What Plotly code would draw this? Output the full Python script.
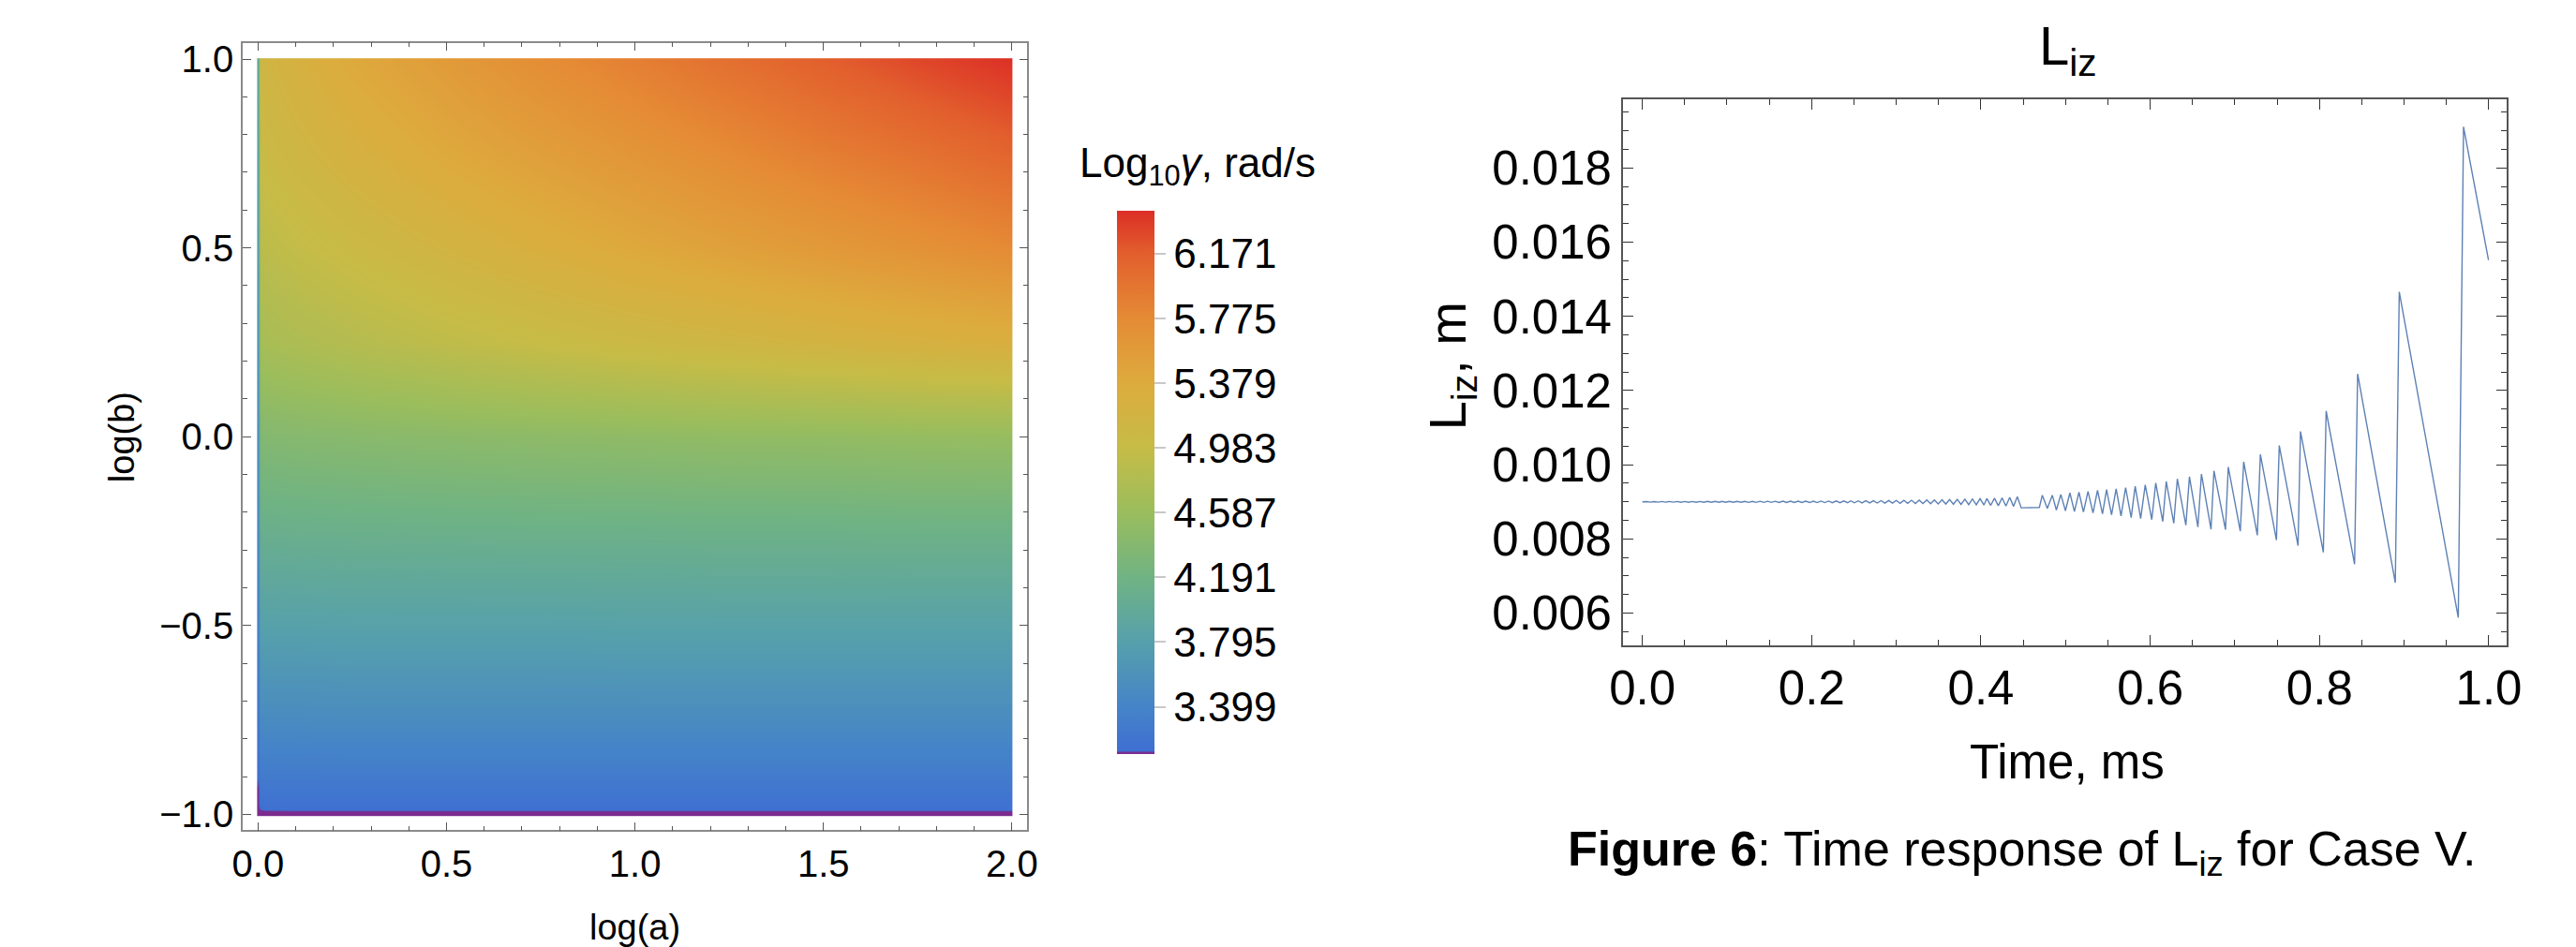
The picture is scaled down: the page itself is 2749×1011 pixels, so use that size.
import plotly.graph_objects as go

grid_log_a = [0.0, 0.005, 0.02, 0.1, 0.25, 0.5, 0.75, 1.0, 1.25, 1.5, 1.75, 1.996, 2.0]
grid_log_b = [-1.0, -0.992, -0.985, -0.95, -0.75, -0.5, -0.25, 0.0, 0.25, 0.5, 0.75, 0.996, 1.0]
row_m100 = [3.11, 3.11, 3.11, 3.11, 3.11, 3.11, 3.11, 3.11, 3.11, 3.11, 3.11, 3.11, 3.11]
row_m099 = [3.11, 3.11, 3.11, 3.11, 3.11, 3.11, 3.11, 3.11, 3.11, 3.11, 3.11, 3.11, 3.11]
row_m0985 = [3.11, 3.13, 3.15, 3.16, 3.16, 3.16, 3.16, 3.16, 3.16, 3.16, 3.16, 3.16, 3.16]
row_m095 = [3.11, 3.20, 3.21, 3.21, 3.21, 3.21, 3.21, 3.21, 3.21, 3.21, 3.21, 3.21, 3.21]
row_m075 = [3.20, 3.50, 3.50, 3.50, 3.51, 3.51, 3.51, 3.51, 3.51, 3.51, 3.51, 3.51, 3.51]
row_m050 = [3.33, 3.80, 3.81, 3.81, 3.82, 3.82, 3.82, 3.83, 3.83, 3.83, 3.83, 3.83, 3.83]
row_m025 = [3.45, 4.08, 4.09, 4.10, 4.11, 4.12, 4.13, 4.13, 4.14, 4.14, 4.15, 4.15, 4.15]
row_p000 = [3.55, 4.36, 4.38, 4.40, 4.42, 4.45, 4.47, 4.49, 4.51, 4.52, 4.54, 4.55, 4.55]
row_p025 = [3.65, 4.68, 4.72, 4.76, 4.83, 4.92, 5.00, 5.07, 5.13, 5.19, 5.25, 5.30, 5.30]
row_p050 = [3.75, 4.86, 4.90, 4.96, 5.05, 5.18, 5.30, 5.41, 5.51, 5.60, 5.69, 5.78, 5.78]
row_p075 = [3.85, 5.00, 5.05, 5.12, 5.24, 5.40, 5.53, 5.65, 5.77, 5.89, 6.00, 6.12, 6.12]
row_p0996 = [3.95, 5.10, 5.15, 5.25, 5.40, 5.58, 5.74, 5.88, 6.02, 6.16, 6.30, 6.42, 6.42]
row_p100 = [3.95, 5.10, 5.15, 5.25, 5.40, 5.58, 5.74, 5.88, 6.02, 6.16, 6.30, 6.42, 6.43]

cbar_ticks = [3.399, 3.795, 4.191, 4.587, 4.983, 5.379, 5.775, 6.171]
cbar_labels = ["3.399", "3.795", "4.191", "4.587", "4.983", "5.379", "5.775", "6.171"]
z_min, z_max = 3.11, 6.435

start_t, start_v = 0.0, 0.00900
early_peak_t = [0.005, 0.014, 0.023, 0.032, 0.041, 0.050, 0.059, 0.068, 0.077, 0.086,
                0.094, 0.103, 0.112, 0.121, 0.130, 0.139, 0.148, 0.157, 0.166, 0.175,
                0.184, 0.193, 0.202, 0.211, 0.220, 0.229, 0.238, 0.246, 0.255, 0.264,
                0.273, 0.282, 0.291, 0.300, 0.309, 0.318, 0.327, 0.336, 0.345, 0.354,
                0.363, 0.372, 0.381, 0.390, 0.399, 0.407, 0.416, 0.425, 0.434, 0.443]
early_peak_v = [0.009008, 0.009008, 0.009009, 0.009009, 0.009010, 0.009010, 0.009010, 0.009011, 0.009011, 0.009012,
                0.009012, 0.009013, 0.009013, 0.009014, 0.009014, 0.009015, 0.009015, 0.009016, 0.009017, 0.009017,
                0.009018, 0.009019, 0.009020, 0.009021, 0.009022, 0.009023, 0.009024, 0.009026, 0.009027, 0.009029,
                0.009031, 0.009033, 0.009035, 0.009038, 0.009040, 0.009043, 0.009046, 0.009050, 0.009053, 0.009057,
                0.009062, 0.009067, 0.009072, 0.009078, 0.009084, 0.009091, 0.009099, 0.009108, 0.009120, 0.009140]
early_trough_t = [0.0095, 0.0185, 0.0275, 0.0365, 0.0455, 0.0545, 0.0635, 0.0725, 0.0815, 0.0905,
                  0.0985, 0.1075, 0.1165, 0.1255, 0.1345, 0.1435, 0.1525, 0.1615, 0.1705, 0.1795,
                  0.1885, 0.1975, 0.2065, 0.2155, 0.2245, 0.2335, 0.2425, 0.2505, 0.2595, 0.2685,
                  0.2775, 0.2865, 0.2955, 0.3045, 0.3135, 0.3225, 0.3315, 0.3405, 0.3495, 0.3585,
                  0.3675, 0.3765, 0.3855, 0.3945, 0.4035, 0.4115, 0.4205, 0.4295, 0.4385]
early_trough_v = [0.008992, 0.008992, 0.008991, 0.008991, 0.008990, 0.008990, 0.008990, 0.008989, 0.008989, 0.008988,
                  0.008988, 0.008987, 0.008987, 0.008986, 0.008986, 0.008985, 0.008985, 0.008984, 0.008983, 0.008983,
                  0.008982, 0.008981, 0.008980, 0.008979, 0.008978, 0.008977, 0.008976, 0.008974, 0.008973, 0.008971,
                  0.008969, 0.008967, 0.008965, 0.008962, 0.008960, 0.008957, 0.008954, 0.008950, 0.008946, 0.008942,
                  0.008937, 0.008932, 0.008926, 0.008920, 0.008913, 0.008905, 0.008897, 0.008888, 0.008878]
gap_t = [0.4476, 0.469]
gap_v = [0.00884, 0.00885]
late_peak_t = [0.4725, 0.4843, 0.4944, 0.5051, 0.5158, 0.5265, 0.5377, 0.5484, 0.5597, 0.5709,
               0.5822, 0.5941, 0.6065, 0.6189, 0.6320, 0.6463, 0.6605, 0.6753, 0.6922, 0.7104,
               0.7301, 0.7524, 0.7775, 0.8078, 0.8450, 0.8942, 0.9701]
late_peak_v = [0.00918, 0.00918, 0.00920, 0.00924, 0.00926, 0.00928, 0.00931, 0.00933, 0.00935, 0.00938,
               0.00942, 0.00946, 0.00951, 0.00955, 0.00962, 0.00968, 0.00975, 0.00984, 0.00994, 0.01008,
               0.01028, 0.01052, 0.01090, 0.01145, 0.01245, 0.01466, 0.01911]
late_trough_t = [0.4784, 0.4891, 0.4998, 0.5104, 0.5211, 0.5324, 0.5436, 0.5543, 0.5655, 0.5775,
                 0.5887, 0.6018, 0.6148, 0.6278, 0.6421, 0.6563, 0.6718, 0.6889, 0.7064, 0.7265,
                 0.7491, 0.7746, 0.8045, 0.8414, 0.8895, 0.9639]
late_trough_v = [0.008825, 0.00878, 0.00876, 0.00874, 0.008725, 0.00870, 0.008675, 0.00865, 0.00862, 0.008575,
                 0.00855, 0.00852, 0.00847, 0.00842, 0.00837, 0.00832, 0.00826, 0.00825, 0.00821, 0.00810,
                 0.00797, 0.00782, 0.00764, 0.00732, 0.00682, 0.00588]
end_t, end_v = 0.9996, 0.01552

# ---------------- assemble ----------------
grid_z = [row_m100, row_m099, row_m0985, row_m095, row_m075, row_m050, row_m025,
          row_p000, row_p025, row_p050, row_p075, row_p0996, row_p100]

time_ms = [start_t]
L_iz = [start_v]
for k in range(len(early_peak_t)):
    time_ms.append(early_peak_t[k]); L_iz.append(early_peak_v[k])
    if k < len(early_trough_t):
        time_ms.append(early_trough_t[k]); L_iz.append(early_trough_v[k])
time_ms += gap_t
L_iz += gap_v
for k in range(len(late_peak_t)):
    time_ms.append(late_peak_t[k]); L_iz.append(late_peak_v[k])
    if k < len(late_trough_t):
        time_ms.append(late_trough_t[k]); L_iz.append(late_trough_v[k])
time_ms.append(end_t)
L_iz.append(end_v)

# colour scale (Mathematica-like rainbow, purple only at the very bottom)
stop_z = [3.11, 3.118, 3.13, 3.399, 3.795, 4.191, 4.587, 4.983, 5.379, 5.775, 6.171, 6.435]
stop_c = ['#7B2A8E', '#7B2A8E', '#3F6FD2', '#4584C8', '#56A0AC', '#70B383', '#9ABD5D',
          '#C6BC47', '#DDAB3D', '#E58B35', '#E25F2D', '#DC2F26']
colorscale = [[(z - z_min) / (z_max - z_min), c] for z, c in zip(stop_z, stop_c)]

W, H = 2749, 1011
def px(x): return x / W
def py(y): return 1 - y / H

FONT = "Arial, Liberation Sans, sans-serif"

fig = go.Figure()
fig.add_trace(go.Heatmap(
    x=grid_log_a, y=grid_log_b, z=grid_z, zsmooth='best',
    colorscale=colorscale, zmin=z_min, zmax=z_max,
    xaxis='x', yaxis='y', hoverinfo='skip',
    colorbar=dict(
        x=px(1173), xanchor='left', xref='paper', xpad=10,
        y=py(507), yanchor='middle', yref='paper', ypad=0,
        len=580, lenmode='pixels', thickness=40, thicknessmode='pixels',
        outlinewidth=0, tickvals=cbar_ticks, ticktext=cbar_labels,
        ticks='outside', ticklen=12, tickcolor='#c8c8c8', tickwidth=1.5,
        tickfont=dict(family=FONT, size=44, color='black'),
    ),
))
fig.add_trace(go.Scatter(
    x=time_ms, y=L_iz, mode='lines', xaxis='x2', yaxis='y2',
    line=dict(color='#5E81B5', width=1.4), showlegend=False, hoverinfo='skip',
))

frame_left = dict(showline=True, linecolor='#8a8a8a', linewidth=1.5, mirror='allticks',
                  ticks='inside', tickcolor='#555555', tickwidth=1.2, ticklen=9,
                  showgrid=False, zeroline=False,
                  tickfont=dict(family=FONT, size=40, color='black'))
frame_right = dict(showline=True, linecolor='#555555', linewidth=1.5, mirror='allticks',
                   ticks='inside', tickcolor='#333333', tickwidth=1.3, ticklen=11,
                   showgrid=False, zeroline=False,
                   tickfont=dict(family=FONT, size=51, color='black'))

fig.update_layout(
    width=W, height=H, margin=dict(l=0, r=0, t=0, b=0),
    paper_bgcolor='white', plot_bgcolor='white', showlegend=False,
    xaxis=dict(domain=[px(238.7), px(1086)], range=[-0.041, 2.041], anchor='y',
               tick0=0, dtick=0.5, tickformat='.1f',
               minor=dict(dtick=0.1, ticklen=5, tickcolor='#555555', ticks='inside'),
               **frame_left),
    yaxis=dict(domain=[py(882), py(33)], range=[-1.042, 1.043], anchor='x',
               tick0=0, dtick=0.5, tickformat='.1f',
               minor=dict(dtick=0.1, ticklen=5, tickcolor='#555555', ticks='inside'),
               **frame_left),
    xaxis2=dict(domain=[px(1729), px(2683)], range=[-0.023, 1.0208], anchor='y2',
                tick0=0, dtick=0.2, tickformat='.1f',
                minor=dict(dtick=0.05, ticklen=6, tickcolor='#333333', ticks='inside'),
                **frame_right),
    yaxis2=dict(domain=[py(683), py(94)], range=[0.005125, 0.01985], anchor='x2',
                tick0=0.006, dtick=0.002, tickformat='.3f',
                minor=dict(dtick=0.0005, ticklen=6, tickcolor='#333333', ticks='inside'),
                **frame_right),
)

ann = [
    dict(text="log(a)", x=px(662), y=py(987), size=38, angle=0),
    dict(text="log(b)", x=px(109), y=py(458), size=38, angle=-90),
    dict(text="Log<sub>10</sub><i>γ</i>, rad/s", x=px(1270), y=py(166), size=44, angle=0),
    dict(text="L<sub>iz</sub>", x=px(2210), y=py(40), size=58, angle=0),
    dict(text="L<sub>iz</sub>, m", x=px(1543), y=py(382), size=56, angle=-90),
    dict(text="Time, ms", x=px(2209), y=py(808), size=51, angle=0),
    dict(text="<b>Figure 6</b>: Time response of L<sub>iz</sub> for Case V.",
         x=px(2160), y=py(906), size=52, angle=0),
]
for a in ann:
    fig.add_annotation(text=a['text'], x=a['x'], y=a['y'], xref='paper', yref='paper',
                       xanchor='center', yanchor='middle', showarrow=False,
                       textangle=a['angle'], font=dict(family=FONT, size=a['size'], color='black'))

fig.write_html("out.html")
